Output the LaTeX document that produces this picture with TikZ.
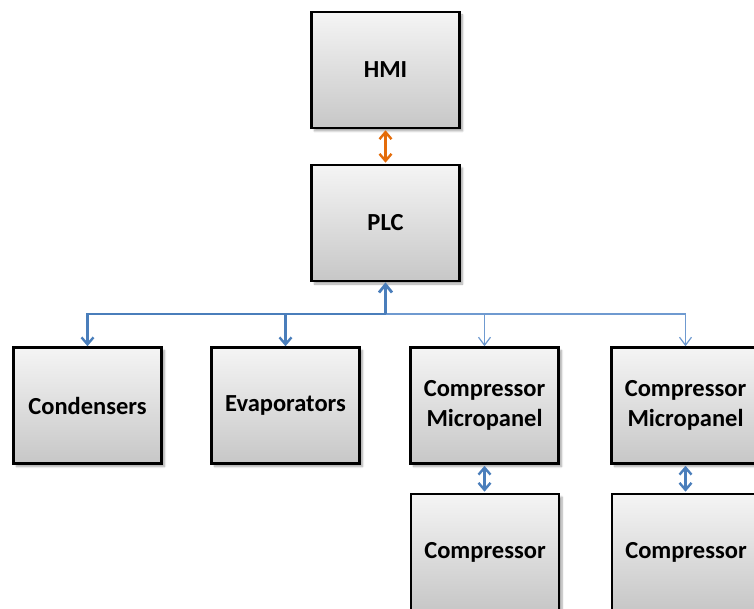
\documentclass[tikz,border=0pt]{standalone}
\usepackage{fontspec}
\setmainfont{Carlito}
\usetikzlibrary{arrows.meta,shadows.blur}
\definecolor{arrblue}{HTML}{4A7EBB}
\definecolor{thinblue}{HTML}{6F9AD0}
\definecolor{arrorange}{HTML}{E46C0A}
\tikzset{
  box/.style={draw=black, line width=2.6pt, top color=black!4, bottom color=black!22,
    minimum width=148pt, minimum height=116pt, inner sep=0pt, align=center,
    font=\bfseries\fontsize{24.5}{30}\selectfont,
    blur shadow={shadow xshift=3pt, shadow yshift=-3pt, shadow blur steps=6, shadow opacity=35}},
  busthick/.style={draw=arrblue, line width=2.4pt},
  busthin/.style={draw=thinblue, line width=1.2pt},
  duo/.style={line width=2.4pt, {Straight Barb[length=7pt,width=12pt]}-{Straight Barb[length=7pt,width=12pt]}, shorten <=1pt, shorten >=1pt},
}
\begin{document}
\begin{tikzpicture}[x=1pt,y=-1pt]
\useasboundingbox (0,0) rectangle (754,609);
\clip (0,0) rectangle (754,609);
\node[box] (hmi) at (385.5,70) {HMI};
\node[box] (plc) at (385.5,223) {PLC};
\node[box] (cond) at (87.5,405.5) {Condensers};
\node[box] (evap) at (285.5,405.5) {Evaporators};
\node[box] (mp1) at (484.5,405.5) {Compressor\\Micropanel};
\node[box] (mp2) at (685.5,405.5) {Compressor\\Micropanel};
\node[box] (comp1) at (485,552) {Compressor};
\node[box] (comp2) at (686,552) {Compressor};
\coordinate (j) at (385.5,314);
\draw[busthin, -{Straight Barb[length=8pt,width=12pt]}] (j) -| (mp1.north);
\draw[busthin, -{Straight Barb[length=8pt,width=12pt]}] (j) -| (mp2.north);
\draw[busthick, -{Straight Barb[length=7pt,width=12pt]}] (j) -| (cond.north);
\draw[busthick, -{Straight Barb[length=7pt,width=12pt]}] (j) -| (evap.north);
\draw[busthick, line width=2.8pt, -{Straight Barb[length=8pt,width=13pt]}] (j) -- (plc.south);
\draw[duo, draw=arrorange] (hmi.south) -- (plc.north);
\draw[duo, draw=arrblue] (mp1.south) -- (mp1.south |- comp1.north);
\draw[duo, draw=arrblue] (mp2.south) -- (mp2.south |- comp2.north);
\end{tikzpicture}
\end{document}
